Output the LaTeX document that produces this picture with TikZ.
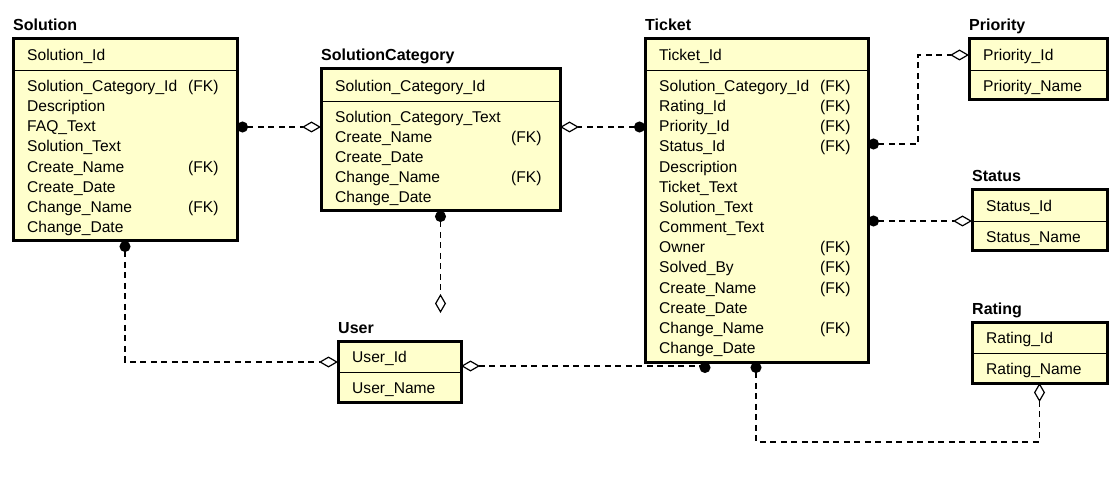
\documentclass[tikz,border=0pt]{standalone}
\usepackage{fontspec}
\setmainfont{Liberation Sans}
\usetikzlibrary{arrows.meta,calc}
\definecolor{tblfill}{RGB}{255,255,204}
\tikzset{
  ball/.tip={Circle[length=11pt]},
  odia/.tip={Diamond[open,length=19pt,width=11pt]},
  tbl/.style={draw,line width=3pt,fill=tblfill,rectangle,anchor=north west,inner sep=0pt,outer sep=0pt},
  ttl/.style={anchor=base west,inner sep=0pt,font=\fontsize{16}{19}\selectfont\bfseries},
  att/.style={anchor=base west,inner sep=0pt,font=\fontsize{15.6}{18}\selectfont},
  sepline/.style={line width=0.9pt},
  rel/.style={dash pattern=on 6pt off 4.5pt,line width=1.2pt}
}
\begin{document}
\begin{tikzpicture}[x=1pt,y=-1pt]
\useasboundingbox (0,0) rectangle (1118,478);

% ---------- tables ----------
\node[tbl,minimum width=224pt,minimum height=202pt] (sol) at (13,39) {};
\node[tbl,minimum width=239pt,minimum height=142pt] (sc)  at (321,69) {};
\node[tbl,minimum width=223pt,minimum height=323pt] (tk)  at (645,39) {};
\node[tbl,minimum width=138pt,minimum height=61pt]  (pri) at (969,39) {};
\node[tbl,minimum width=135pt,minimum height=61pt]  (sta) at (972,190) {};
\node[tbl,minimum width=135pt,minimum height=61pt]  (rat) at (972,322) {};
\node[tbl,minimum width=123pt,minimum height=61pt]  (usr) at (338,341) {};

% separators
\draw[sepline] ($(sol.north west)+(0,31)$) -- ($(sol.north east)+(0,31)$);
\draw[sepline] ($(sc.north west)+(0,32)$) -- ($(sc.north east)+(0,32)$);
\draw[sepline] ($(tk.north west)+(0,31)$) -- ($(tk.north east)+(0,31)$);
\draw[sepline] ($(pri.north west)+(0,31)$) -- ($(pri.north east)+(0,31)$);
\draw[sepline] ($(sta.north west)+(0,31)$) -- ($(sta.north east)+(0,31)$);
\draw[sepline] ($(rat.north west)+(0,31)$) -- ($(rat.north east)+(0,31)$);
\draw[sepline] ($(usr.north west)+(0,31)$) -- ($(usr.north east)+(0,31)$);

% titles
\node[ttl] (solT) at (13,31) {Solution};
\node[ttl] (scT)  at (321,61) {SolutionCategory};
\node[ttl] (tkT)  at (645,31) {Ticket};
\node[ttl] (priT) at (969,31) {Priority};
\node[ttl] (staT) at (972,182) {Status};
\node[ttl] (ratT) at (972,314) {Rating};
\node[ttl] (usrT) at (338,333) {User};

% Solution
\node[att] (solK) at (27,60.5) {Solution\_Id};
\foreach \t [count=\i from 0] in {Solution\_Category\_Id,Description,FAQ\_Text,Solution\_Text,Create\_Name,Create\_Date,Change\_Name,Change\_Date}
  \node[att] (sol-\i) at (27,{91.5+20.14*\i}) {\t};
\foreach \i in {0,4,6}
  \node[att] (solFK-\i) at (188,{91.5+20.14*\i}) {(FK)};

% SolutionCategory
\node[att] (scK) at (335,91.5) {Solution\_Category\_Id};
\foreach \t [count=\i from 0] in {Solution\_Category\_Text,Create\_Name,Create\_Date,Change\_Name,Change\_Date}
  \node[att] (sc-\i) at (335,{122.5+20*\i}) {\t};
\foreach \i in {1,3}
  \node[att] (scFK-\i) at (511,{122.5+20*\i}) {(FK)};

% Ticket
\node[att] (tkK) at (659,60.5) {Ticket\_Id};
\foreach \t [count=\i from 0] in {Solution\_Category\_Id,Rating\_Id,Priority\_Id,Status\_Id,Description,Ticket\_Text,Solution\_Text,Comment\_Text,Owner,Solved\_By,Create\_Name,Create\_Date,Change\_Name,Change\_Date}
  \node[att] (tk-\i) at (659,{91.5+20.15*\i}) {\t};
\foreach \i in {0,1,2,3,8,9,10,12}
  \node[att] (tkFK-\i) at (820,{91.5+20.15*\i}) {(FK)};

% small tables
\node[att] (priK) at (983,60.5) {Priority\_Id};
\node[att] (pri-0) at (983,91.5) {Priority\_Name};
\node[att] (staK) at (986,211.5) {Status\_Id};
\node[att] (sta-0) at (986,242.5) {Status\_Name};
\node[att] (ratK) at (986,343.5) {Rating\_Id};
\node[att] (rat-0) at (986,374.5) {Rating\_Name};
\node[att] (usrK) at (352,362.5) {User\_Id};
\node[att] (usr-0) at (352,393.5) {User\_Name};

% ---------- relationships ----------
\coordinate (scEnd) at (440.5,313);
\draw[rel,{ball}-{odia}] ($(sol.north east)+(0,88)$) -- ($(sc.north west)+(0,58)$);
\draw[rel,{ball}-{odia}] ($(tk.north west)+(0,88)$) -- ($(sc.north east)+(0,58)$);
\draw[rel,{ball}-{odia}] (sc.south) -- (scEnd);
\draw[rel,{ball}-{odia}] (sol.south) |- ($(usr.north west)+(0,21)$);
\draw[rel,{odia}-{ball}] ($(usr.north east)+(0,25)$) -| ($(tk.south west)+(60,0)$);
\draw[rel,{ball}-{odia}] ($(tk.north east)+(0,105)$) -| ($(pri.north west)+(-51,16)$) -- ($(pri.north west)+(0,16)$);
\draw[rel,{ball}-{odia}] ($(tk.north east)+(0,182)$) -- ($(sta.north west)+(0,31)$);
\draw[rel,{ball}-{odia}] ($(tk.south west)+(111,0)$) |- ($(rat.south)+(0,59)$) -- (rat.south);
\end{tikzpicture}
\end{document}
